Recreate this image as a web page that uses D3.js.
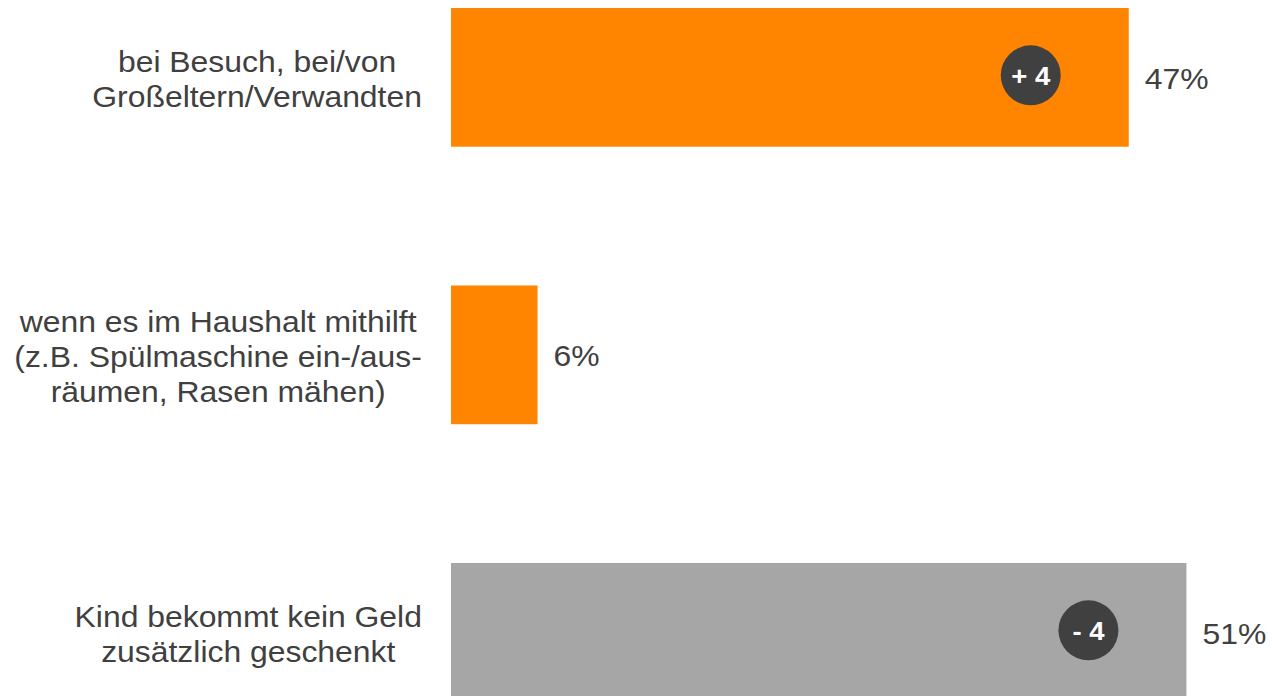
<!DOCTYPE html>
<html><head><meta charset="utf-8">
<script src="https://cdn.jsdelivr.net/npm/d3@7"></script>
<style>html,body{margin:0;padding:0;background:#fff;overflow:hidden}
text{font-family:"Liberation Sans", Arial, sans-serif;}</style>
</head><body>
<svg id="chart" width="1272" height="696"></svg>
<script>
const categories = [
  ["bei Besuch, bei/von", "Großeltern/Verwandten"],
  ["wenn es im Haushalt mithilft", "(z.B. Spülmaschine ein-/aus-", "räumen, Rasen mähen)"],
  ["Kind bekommt kein Geld", "zusätzlich geschenkt"]
];
const categoryKeys = ["besuch", "haushalt", "keinGeld"];
const values = [47, 6, 51];
const changes = ["+ 4", null, "- 4"];
const barColors = ["#FF8500", "#FF8500", "#A6A6A6"];

const svg = d3.select("#chart");
const x = d3.scaleLinear().domain([0, 100]).range([451, 451 + 1442]);
const y = d3.scaleBand().domain(categoryKeys).range([-61.4, 771.1]).paddingInner(0.5).paddingOuter(0.25);
const stretch = 1.1;
const labelRight = 422;

const g = svg.selectAll("g.row").data(categoryKeys).join("g").attr("class", "row");

g.append("rect")
  .attr("x", x(0))
  .attr("y", k => y(k))
  .attr("width", (k, i) => x(values[i]) - x(0))
  .attr("height", y.bandwidth())
  .attr("fill", (k, i) => barColors[i]);

g.append("text")
  .attr("transform", (k, i) => `translate(${x(values[i]) + 16},${y(k) + y.bandwidth() / 2 + 11.5}) scale(${stretch},1)`)
  .attr("font-size", 29).attr("fill", "#404040")
  .text((k, i) => values[i] + "%");

g.each(function(k, i) {
  const lines = categories[i];
  const cy = y(k) + y.bandwidth() / 2;
  const lh = 35;
  const first = cy - (lines.length - 1) * lh / 2 + 12;
  const texts = lines.map((l, j) => d3.select(this).append("text")
      .attr("font-size", 29).attr("fill", "#404040")
      .attr("text-anchor", "middle").text(l));
  const maxW = d3.max(texts, t => t.node().getComputedTextLength()) * stretch;
  const cx = labelRight - maxW / 2;
  texts.forEach((t, j) => t.attr("transform", `translate(${cx},${first + j * lh}) scale(${stretch},1)`));
  if (changes[i]) {
    const bx = x(values[i]) - 98;
    const by = cy - 2;
    d3.select(this).append("circle").attr("cx", bx).attr("cy", by).attr("r", 30).attr("fill", "#404040");
    d3.select(this).append("text")
      .attr("transform", `translate(${bx},${by + 10}) scale(${stretch},1)`)
      .attr("text-anchor", "middle").attr("font-weight", "bold")
      .attr("font-size", 25).attr("fill", "#fff").text(changes[i]);
  }
});
</script>
</body></html>
